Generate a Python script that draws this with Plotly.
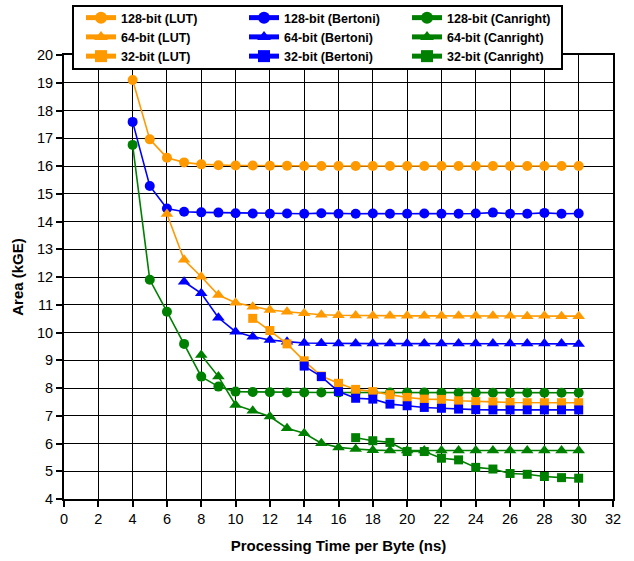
import plotly.graph_objects as go

# x positions (processing time per byte, ns)
x128 = list(range(4, 31))
x64_lut = list(range(6, 31))
x64_bert = list(range(7, 31))
x64_can = list(range(8, 31))
x32_lut = list(range(11, 31))
x32_bert = list(range(14, 31))
x32_can = list(range(17, 31))

lut128 = [19.10, 16.96, 16.30, 16.13, 16.06, 16.03, 16.02, 16.02, 16.01, 16.01,
          16.00, 16.00, 16.00, 16.00, 16.00, 16.00, 16.00, 16.00, 16.00, 16.00,
          16.00, 16.00, 16.00, 16.00, 16.00, 16.00, 16.00]
bertoni128 = [17.59, 15.28, 14.47, 14.35, 14.33, 14.32, 14.30, 14.29, 14.28, 14.29,
              14.28, 14.30, 14.28, 14.28, 14.29, 14.28, 14.28, 14.29, 14.28, 14.28,
              14.29, 14.32, 14.28, 14.28, 14.31, 14.28, 14.29]
canright128 = [16.76, 11.90, 10.75, 9.59, 8.41, 8.05, 7.87, 7.86, 7.85, 7.84,
               7.84, 7.84, 7.84, 7.84, 7.84, 7.84, 7.84, 7.84, 7.83, 7.83,
               7.83, 7.83, 7.83, 7.83, 7.83, 7.83, 7.83]
lut64 = [14.27, 12.62, 12.01, 11.35, 11.07, 10.93, 10.81, 10.75, 10.69, 10.64,
         10.62, 10.61, 10.60, 10.60, 10.60, 10.60, 10.60, 10.60, 10.60, 10.60,
         10.60, 10.59, 10.60, 10.59, 10.59]
bertoni64 = [11.83, 11.41, 10.53, 10.03, 9.85, 9.73, 9.67, 9.62, 9.61, 9.60,
             9.60, 9.60, 9.60, 9.60, 9.60, 9.60, 9.60, 9.60, 9.60, 9.60,
             9.60, 9.60, 9.60, 9.59]
canright64 = [9.19, 8.41, 7.39, 7.18, 6.97, 6.55, 6.37, 6.01, 5.86, 5.80,
              5.76, 5.75, 5.75, 5.75, 5.75, 5.75, 5.75, 5.75, 5.75, 5.75,
              5.75, 5.75, 5.75]
lut32 = [10.51, 10.07, 9.59, 8.98, 8.43, 8.17, 7.95, 7.87, 7.76, 7.66,
         7.60, 7.59, 7.54, 7.51, 7.50, 7.48, 7.47, 7.47, 7.47, 7.47]
bertoni32 = [8.79, 8.41, 7.87, 7.63, 7.60, 7.42, 7.36, 7.30, 7.27, 7.24,
             7.22, 7.21, 7.21, 7.21, 7.21, 7.21, 7.21]
canright32 = [6.21, 6.10, 6.04, 5.71, 5.71, 5.47, 5.41, 5.14, 5.08, 4.92,
              4.89, 4.81, 4.77, 4.75]

ORANGE = "#FF9900"
BLUE = "#0000FF"
GREEN = "#008000"

series = [
    ("128-bit (LUT)", x128, lut128, ORANGE, "circle", 10),
    ("128-bit (Bertoni)", x128, bertoni128, BLUE, "circle", 10),
    ("128-bit (Canright)", x128, canright128, GREEN, "circle", 10),
    ("64-bit (LUT)", x64_lut, lut64, ORANGE, "triangle-up", 11),
    ("64-bit (Bertoni)", x64_bert, bertoni64, BLUE, "triangle-up", 11),
    ("64-bit (Canright)", x64_can, canright64, GREEN, "triangle-up", 11),
    ("32-bit (LUT)", x32_lut, lut32, ORANGE, "square", 9),
    ("32-bit (Bertoni)", x32_bert, bertoni32, BLUE, "square", 9),
    ("32-bit (Canright)", x32_can, canright32, GREEN, "square", 9),
]

FONT = "Liberation Sans, Arial, sans-serif"

fig = go.Figure()
for name, xs, ys, col, sym, sz in series:
    fig.add_trace(go.Scatter(
        x=xs, y=ys, name=name, mode="lines+markers",
        line=dict(color=col, width=1.6),
        marker=dict(color=col, symbol=sym, size=sz, line=dict(width=0)),
    ))

axis_common = dict(
    showline=True, linecolor="black", linewidth=2, mirror=True,
    ticks="outside", ticklen=6, tickwidth=2, tickcolor="black",
    showgrid=True, gridcolor="black", gridwidth=1, zeroline=False,
    tickfont=dict(family=FONT, size=14.5, color="black"),
)

fig.update_xaxes(range=[0, 32], dtick=2, tick0=0,
                 title=dict(text="<b>Processing Time per Byte (ns)</b>",
                            font=dict(family=FONT, size=15, color="black"),
                            standoff=14),
                 **axis_common)
fig.update_yaxes(range=[4, 20], dtick=1, tick0=0,
                 title=dict(text="<b>Area (kGE)</b>",
                            font=dict(family=FONT, size=15, color="black"),
                            standoff=10),
                 **axis_common)

# legend frame drawn as a white box above the plot
fig.add_shape(type="rect", xref="paper", yref="paper",
              x0=0.01639, x1=0.9071, y0=0.9685, y1=1.1104,
              fillcolor="white", line=dict(color="black", width=2),
              layer="above")

fig.update_layout(
    width=634, height=561,
    margin=dict(l=64, r=21, t=55, b=62, autoexpand=False),
    paper_bgcolor="white", plot_bgcolor="white",
    font=dict(family=FONT, color="black"),
    legend=dict(
        orientation="h", x=0.0310, xanchor="left", y=1.1171, yanchor="top",
        bgcolor="rgba(0,0,0,0)", borderwidth=0,
        font=dict(family=FONT, size=12.5, color="black", weight="bold"),
        entrywidth=118, entrywidthmode="pixels",
        traceorder="normal", itemsizing="constant",
    ),
    showlegend=True,
)

fig.write_html("out.html", config={"displayModeBar": False},
               post_script="document.body.style.margin='0';document.body.style.padding='0';")
